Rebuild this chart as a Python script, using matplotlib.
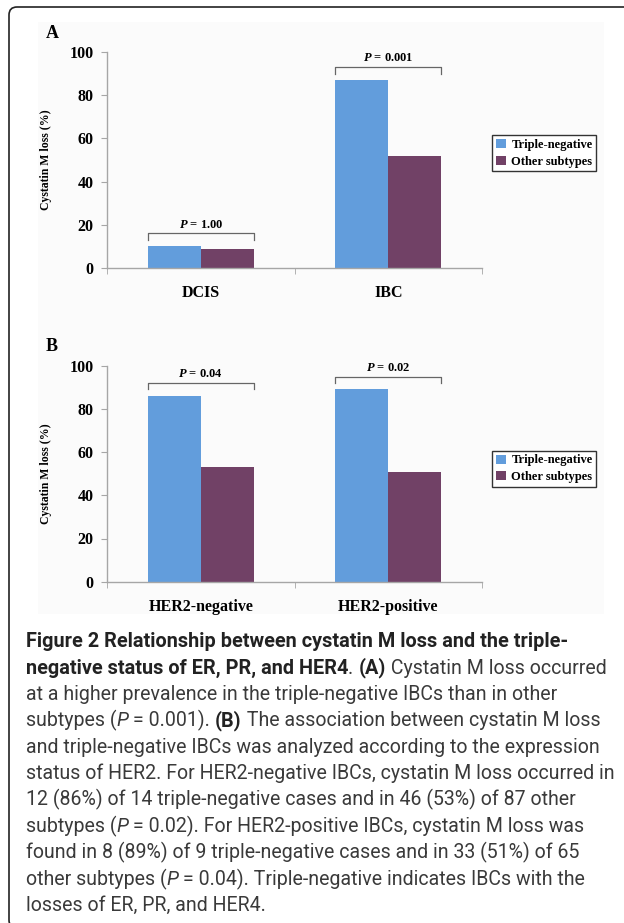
import matplotlib
matplotlib.use('Agg')
import matplotlib.pyplot as plt
from matplotlib.patches import FancyBboxPatch, Rectangle, Patch
from matplotlib.transforms import IdentityTransform

plt.rcParams['mathtext.fontset'] = 'custom'
plt.rcParams['mathtext.it'] = 'Liberation Serif:italic:bold'
plt.rcParams['mathtext.rm'] = 'Liberation Serif:bold'

# data
series_names = ['Triple-negative', 'Other subtypes']
series_colors = ['#629ddc', '#714166']
a_groups = ['DCIS', 'IBC']
a_triple = [10, 87]
a_other = [9, 52]
a_pvals = ['1.00', '0.001']
b_groups = ['HER2-negative', 'HER2-positive']
b_triple = [86, 89]
b_other = [53, 51]
b_pvals = ['0.04', '0.02']
yticks = [0, 20, 40, 60, 80, 100]

caption = [
    [('Figure 2 Relationship between cystatin M loss and the triple-', 'b')],
    [('negative status of ER, PR, and HER4', 'b'), ('. ', 'r'), ('(A)', 'b'),
     (' Cystatin M loss occurred', 'r')],
    [('at a higher prevalence in the triple-negative IBCs than in other', 'r')],
    [('subtypes (', 'r'), ('P', 'i'), (' = 0.001). ', 'r'), ('(B)', 'b'),
     (' The association between cystatin M loss', 'r')],
    [('and triple-negative IBCs was analyzed according to the expression', 'r')],
    [('status of HER2. For HER2-negative IBCs, cystatin M loss occurred in', 'r')],
    [('12 (86%) of 14 triple-negative cases and in 46 (53%) of 87 other', 'r')],
    [('subtypes (', 'r'), ('P', 'i'), (' = 0.02). For HER2-positive IBCs, cystatin M loss was', 'r')],
    [('found in 8 (89%) of 9 triple-negative cases and in 33 (51%) of 65', 'r')],
    [('other subtypes (', 'r'), ('P', 'i'), (' = 0.04). Triple-negative indicates IBCs with the', 'r')],
    [('losses of ER, PR, and HER4.', 'r')],
]

W, H = 624, 923
fig = plt.figure(figsize=(W / 100, H / 100), dpi=100)
px = IdentityTransform()

# outer frame and light panel background
fig.patches.append(FancyBboxPatch((9, -5), 650, H - 7 + 5,
                                  boxstyle='round,pad=0,rounding_size=8',
                                  transform=px, fill=False, edgecolor='#222222',
                                  linewidth=1.2, figure=fig, zorder=-2))
fig.patches.append(Rectangle((38, H - 614), 566, 592, transform=px,
                             facecolor='#fbfbfb', edgecolor='none', figure=fig,
                             zorder=-2))

serif = 'Liberation Serif'
gray = '#a6a6a6'
bw = 0.283


def draw_panel(top_px, letter, groups, triple, other, pvals):
    ax = fig.add_axes([107 / W, 1 - (top_px + 216) / H, 375 / W, 216 / H])
    ax.set_facecolor('none')
    x = list(range(len(groups)))
    ax.bar([i - bw / 2 for i in x], triple, width=bw, color=series_colors[0])
    ax.bar([i + bw / 2 for i in x], other, width=bw, color=series_colors[1])
    ax.set_xlim(-0.5, len(groups) - 0.5)
    ax.set_ylim(0, 100)
    ax.set_yticks(yticks)
    ax.set_yticklabels([str(v) for v in yticks], fontfamily=serif,
                       fontweight='bold', fontsize=11.5)
    ax.set_xticks(x)
    ax.set_xticklabels(groups, fontfamily=serif, fontweight='bold', fontsize=11.5)
    ax.set_xticks([i - 0.5 for i in range(len(groups) + 1)], minor=True)
    ax.tick_params(axis='x', which='major', length=0, pad=12.5)
    ax.tick_params(axis='x', which='minor', length=4, color=gray, direction='out')
    ax.tick_params(axis='y', length=4, color=gray, pad=5.5)
    for s in ['top', 'right']:
        ax.spines[s].set_visible(False)
    for s in ['left', 'bottom']:
        ax.spines[s].set_color(gray)
        ax.spines[s].set_linewidth(1.0)
    ax.set_ylabel('Cystatin M loss (%)', fontfamily=serif, fontweight='bold',
                  fontsize=8.5, labelpad=13)
    # significance brackets
    for i in x:
        top = max(triple[i], other[i]) + 6
        xl, xr = i - bw, i + bw
        ax.plot([xl, xl, xr, xr], [top - 3, top, top, top - 3], color='#666666',
                linewidth=0.9, clip_on=False)
        ax.text(i, top + 4, '$P$ = ' + pvals[i], ha='center', va='center',
                fontfamily=serif, fontweight='bold', fontsize=9)
    fig.text(46 / W, 1 - (top_px - 19) / H, letter, fontfamily=serif,
             fontweight='bold', fontsize=13, ha='left', va='center')
    return ax


draw_panel(52, 'A', a_groups, a_triple, a_other, a_pvals)
draw_panel(365.7, 'B', b_groups, b_triple, b_other, b_pvals)

handles = [Patch(facecolor=c, edgecolor='none') for c in series_colors]
for ytop in [135, 450.7]:
    fig.legend(handles, series_names, loc='upper left',
               bbox_to_anchor=(492 / W, 1 - ytop / H),
               prop={'family': serif, 'weight': 'bold', 'size': 9},
               frameon=True, fancybox=False, edgecolor='#333333', framealpha=1,
               handlelength=0.85, handleheight=0.75, handletextpad=0.4,
               borderpad=0.3, labelspacing=0.38, borderaxespad=0)

# caption, drawn piece by piece so the styles can mix on a line
cap_font = ['Roboto', 'Open Sans']
renderer = fig.canvas.get_renderer()
styles = {'r': dict(fontweight='normal', fontstyle='normal', color='#3a3a3a'),
          'b': dict(fontweight='bold', fontstyle='normal', color='#222222'),
          'i': dict(fontweight='normal', fontstyle='italic', color='#3a3a3a')}


def width_of(s, size, st):
    t = fig.text(0, 0, 'x' + s + 'x', fontfamily=cap_font, fontsize=size, **styles[st])
    t2 = fig.text(0, 0, 'xx', fontfamily=cap_font, fontsize=size, **styles[st])
    w = t.get_window_extent(renderer).width - t2.get_window_extent(renderer).width
    t.remove()
    t2.remove()
    return w


fit3 = 544 / width_of(caption[2][0][0], 13, 'r')
fit6 = 574 / width_of(caption[5][0][0], 13, 'r')
cap_size = 13 * (fit3 + fit6) / 2

# bold size: match line 1, but keep line 2 inside the frame
fit1 = 13 * 585 / width_of(caption[0][0][0], 13, 'b')
reg2 = sum(width_of(t, cap_size, s) for t, s in caption[1] if s != 'b')
bold2 = sum(width_of(t, 13, s) for t, s in caption[1] if s == 'b')
fit2 = 13 * (580 - reg2) / bold2
bold_size = min(fit1, fit2)
sizes = {'r': cap_size, 'i': cap_size, 'b': bold_size}

for k, line in enumerate(caption):
    xpos = 26
    ypos = H - (647.3 + 26.4 * k)
    for txt, st in line:
        fig.text(xpos, ypos, txt, transform=px, fontfamily=cap_font,
                 fontsize=sizes[st], ha='left', va='baseline', **styles[st])
        xpos += width_of(txt, sizes[st], st)

fig.savefig('out.png', dpi=100)
